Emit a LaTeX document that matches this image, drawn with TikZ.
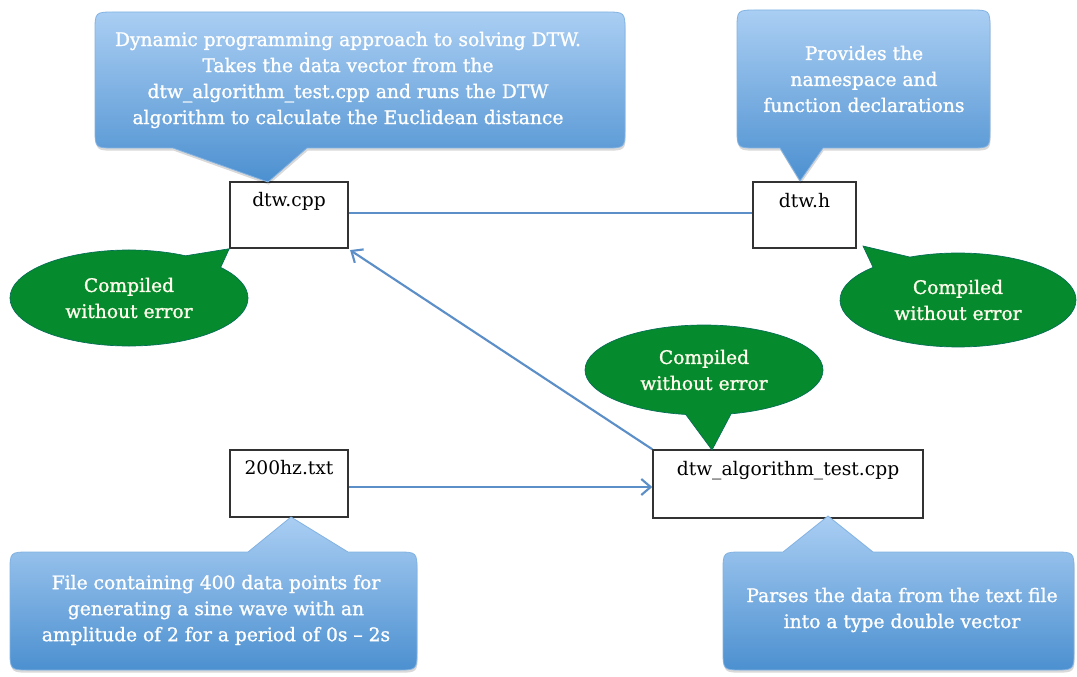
\documentclass[tikz,border=0pt]{standalone}
\usepackage{fontspec}
\setmainfont{DejaVu Serif}
\newfontfamily\callfont[FakeBold=1.2,Ligatures=TeX]{DejaVu Serif}
\usetikzlibrary{shapes.callouts,arrows.meta,shadows}
\definecolor{cbTop}{RGB}{170,206,243}
\definecolor{cbBot}{RGB}{76,144,208}
\definecolor{cbEdge}{RGB}{130,178,226}
\definecolor{cgreen}{RGB}{5,138,45}
\definecolor{ctext}{RGB}{255,253,235}
\definecolor{clink}{RGB}{92,143,200}
\definecolor{cbox}{RGB}{50,50,50}
\newcommand\mycalloutdown[8]{% x1 y1 x2 y2 a b tipx tipy
  \path[bluecall] (#5,#4) -- (#7,#8) -- (#6,#4) -- ({#3-20},#4) .. controls (#3,#4) .. (#3,{#4-20})
    -- (#3,{#2+20}) .. controls (#3,#2) .. ({#3-20},#2) -- ({#1+20},#2) .. controls (#1,#2) .. (#1,{#2+20})
    -- (#1,{#4-20}) .. controls (#1,#4) .. ({#1+20},#4) -- cycle;}
\newcommand\mycalloutup[8]{% x1 y1 x2 y2 a b tipx tipy
  \path[bluecall] (#5,#2) -- (#7,#8) -- (#6,#2) -- ({#3-20},#2) .. controls (#3,#2) .. (#3,{#2+20})
    -- (#3,{#4-20}) .. controls (#3,#4) .. ({#3-20},#4) -- ({#1+20},#4) .. controls (#1,#4) .. (#1,{#4-20})
    -- (#1,{#2+20}) .. controls (#1,#2) .. ({#1+20},#2) -- cycle;}
\tikzset{
  bluecall/.style={top color=cbTop, bottom color=cbBot, draw=cbEdge, line width=0.6pt,
    drop shadow={shadow xshift=0.5pt, shadow yshift=-2pt, opacity=0.15, fill=black}},
  calltext/.style={text=white, align=center, font=\callfont\fontsize{14}{19.5}\selectfont, inner sep=0pt},
  greencall/.style={ellipse callout, fill=cgreen, draw=cgreen!80!blue, line width=0.5pt,
    text=ctext, align=center, font=\callfont\fontsize{14}{19.5}\selectfont, inner sep=0pt,
    callout pointer arc=22},
  filebox/.style={draw=cbox, line width=1.1pt, fill=white, inner sep=0pt},
  boxlabel/.style={font=\fontsize{14}{16}\selectfont, text=black, inner sep=0pt},
  link/.style={draw=clink, line width=1.6pt},
  linkarrow/.style={link, -{Straight Barb[length=7pt,width=12pt,line width=1.6pt]}}
}
\begin{document}
\begin{tikzpicture}[x=0.75pt,y=-0.75pt]
\useasboundingbox (0,0) rectangle (1077,677);

% file boxes
\node[filebox, minimum width=88.5pt, minimum height=49.5pt] (cpp) at (289,215) {};
\node[filebox, minimum width=77.25pt, minimum height=49.5pt] (h) at (804.5,215) {};
\node[filebox, minimum width=88.5pt, minimum height=50.25pt] (txt) at (289,483.5) {};
\node[filebox, minimum width=202.5pt, minimum height=51pt] (test) at (788,484) {};
\node[boxlabel] (cpplbl) at (289,201) {dtw.cpp};
\node[boxlabel] (hlbl) at (804.5,201) {dtw.h};
\node[boxlabel] (txtlbl) at (289,468) {200hz.txt};
\node[boxlabel] (testlbl) at (788,471) {dtw\_algorithm\_test.cpp};

% blue callouts
\mycalloutdown{95}{12}{625}{148}{173}{307}{268}{182}
\node[calltext] (c1) at (348,80) {Dynamic programming approach to solving DTW.\\Takes the data vector from the\\dtw\_algorithm\_test.cpp and runs the DTW\\algorithm to calculate the Euclidean distance};
\mycalloutdown{737}{10}{990}{148}{780}{823}{800}{181}
\node[calltext] (c2) at (864,79) {Provides the\\namespace and\\function declarations};
\mycalloutup{10}{552}{417}{670}{248}{348}{291}{517}
\node[calltext] (c3) at (216,610) {File containing 400 data points for\\generating a sine wave with an\\amplitude of 2 for a period of 0s – 2s};
\mycalloutup{723}{552}{1074}{670}{783}{873}{828}{516}
\node[calltext] (c4) at (902,610) {Parses the data from the text file\\into a type double vector};

% green callouts
\node[greencall, minimum width=178.5pt, minimum height=72pt,
  callout absolute pointer={(cpp.south west)}] (g1) at (129,298) {Compiled\\without error};
\node[greencall, minimum width=177pt, minimum height=70.5pt,
  callout absolute pointer={(863,246)}] (g2) at (958,300) {Compiled\\without error};
\node[greencall, minimum width=178.5pt, minimum height=67.5pt,
  callout absolute pointer={(712,450)}] (g3) at (704,370) {Compiled\\without error};

% connectors
\draw[link] (cpp.east |- 0,213) -- (h.west |- 0,213);
\draw[linkarrow] (txt.east |- 0,487) -- (test.west |- 0,487);
\draw[linkarrow] (test.north west) -- ([xshift=1pt,yshift=-1pt]cpp.south east);
\end{tikzpicture}
\end{document}
